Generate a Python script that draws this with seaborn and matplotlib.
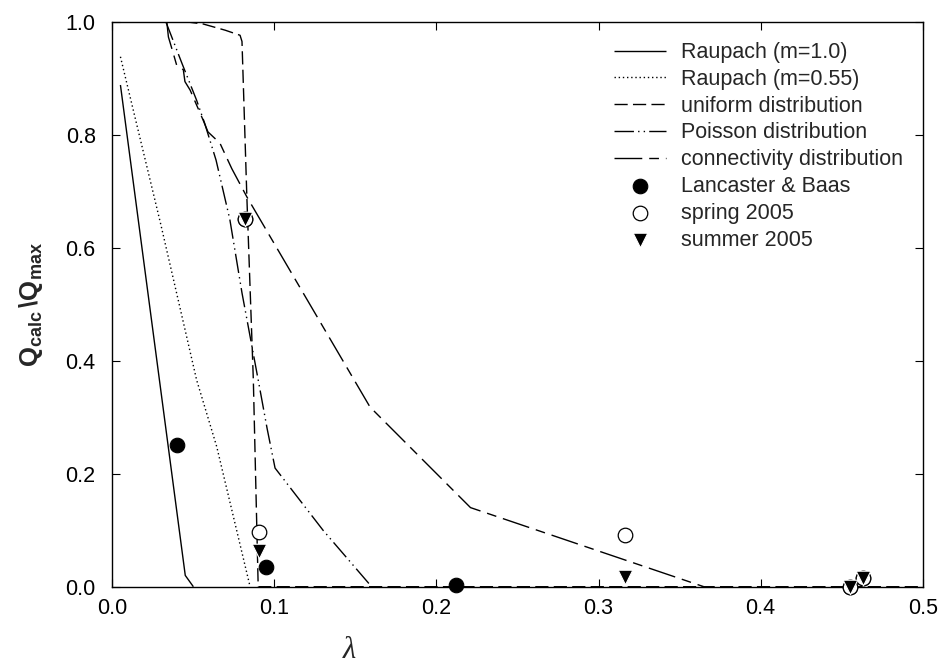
import matplotlib
matplotlib.use("Agg")
import matplotlib.pyplot as plt
import seaborn as sns
import numpy as np
import pandas as pd

# ---------------- data ----------------
raupach1_x = [0.005, 0.045, 0.050]
raupach1_y = [0.888, 0.020, 0.000]

raupach055_x = [0.005, 0.030, 0.052, 0.0644, 0.085]
raupach055_y = [0.938, 0.640, 0.366, 0.248, 0.000]

uniform_x = [0.033, 0.045, 0.056, 0.0696, 0.0788, 0.0800, 0.0830, 0.0870, 0.0900, 0.50]
uniform_y = [1.000, 1.000, 0.996, 0.985, 0.976, 0.965, 0.690, 0.366, 0.000, 0.000]

poisson_x = [0.033, 0.043, 0.052, 0.057, 0.064, 0.0725, 0.080, 0.090, 0.0955, 0.1004, 0.130, 0.160]
poisson_y = [1.000, 0.926, 0.861, 0.820, 0.755, 0.650, 0.520, 0.366, 0.280, 0.210, 0.100, 0.000]

connect_x = [0.0336, 0.0346, 0.0376, 0.0397, 0.0438, 0.0448, 0.048, 0.056, 0.059, 0.0664, 0.0737, 0.083, 0.159, 0.221, 0.365]
connect_y = [1.000, 0.973, 0.944, 0.923, 0.915, 0.894, 0.879, 0.826, 0.805, 0.785, 0.740, 0.690, 0.318, 0.140, 0.000]

lancaster_x = [0.040, 0.082, 0.095, 0.212, 0.455, 0.463]
lancaster_y = [0.250, 0.650, 0.035, 0.003, 0.000, 0.016]

spring_x = [0.082, 0.0905, 0.3164, 0.455, 0.463]
spring_y = [0.650, 0.096, 0.0910, 0.000, 0.016]

summer_x = [0.082, 0.0905, 0.3164, 0.455, 0.463]
summer_y = [0.650, 0.063, 0.0180, 0.000, 0.016]

x_ticks = [0.0, 0.1, 0.2, 0.3, 0.4, 0.5]
y_ticks = [0.0, 0.2, 0.4, 0.6, 0.8, 1.0]

# ---------------- style ----------------
sns.set_style("ticks")
plt.rcParams["font.family"] = ["Liberation Sans", "DejaVu Sans"]
plt.rcParams["mathtext.fontset"] = "custom"
plt.rcParams["mathtext.rm"] = "Liberation Sans"
plt.rcParams["mathtext.bf"] = "Liberation Sans:bold"
plt.rcParams["mathtext.it"] = "Liberation Sans:italic"

FS = 15.5
fig = plt.figure(figsize=(9.4, 6.7), dpi=100)
ax = fig.add_axes([0.1195, 0.1243, 0.8621, 0.8433])

lines = [
    (raupach1_x, raupach1_y, "Raupach (m=1.0)", (0, ())),
    (raupach055_x, raupach055_y, "Raupach (m=0.55)", (0, (1, 2.0))),
    (uniform_x, uniform_y, "uniform distribution", (0, (9.5, 3.8))),
    (poisson_x, poisson_y, "Poisson distribution", (0, (14, 3, 1, 3, 1, 3))),
    (connect_x, connect_y, "connectivity distribution", (0, (20, 5, 7, 5))),
]
for xs, ys, lab, ls in lines:
    df = pd.DataFrame({"x": xs, "y": ys})
    sns.lineplot(data=df, x="x", y="y", ax=ax, color="black", lw=1.0,
                 sort=False, estimator=None, label=lab)
    ln = ax.lines[-1]
    ln.set_linestyle(ls)

sns.scatterplot(x=lancaster_x, y=lancaster_y, ax=ax, marker="o", s=110,
                color="black", edgecolor="black", linewidth=0.8,
                label="Lancaster & Baas", zorder=5, clip_on=False)
sns.scatterplot(x=spring_x, y=spring_y, ax=ax, marker="o", s=110,
                facecolor="white", edgecolor="black", linewidth=0.9,
                label="spring 2005", zorder=6, clip_on=False)
sns.scatterplot(x=summer_x, y=summer_y, ax=ax, marker="v", s=110,
                color="black", edgecolor="white", linewidth=0.8,
                label="summer 2005", zorder=7, clip_on=False)

ax.set_xlim(0, 0.5)
ax.set_ylim(0, 1.0)
ax.set_xticks(x_ticks)
ax.set_yticks(y_ticks)
ax.set_xticklabels([f"{v:.1f}" for v in x_ticks], fontsize=FS)
ax.set_yticklabels([f"{v:.1f}" for v in y_ticks], fontsize=FS)
ax.tick_params(direction="in", length=6, width=0.8, top=True, right=True,
               colors="black")
ax.tick_params(axis="x", pad=8)
ax.tick_params(axis="y", pad=12)
for sp in ax.spines.values():
    sp.set_visible(True)
    sp.set_linewidth(1.0)
    sp.set_color("black")

ax.set_xlabel("λ", fontsize=22, fontstyle="italic", family=["Liberation Serif", "DejaVu Serif"])
ax.xaxis.set_label_coords(0.293, -0.088)
ax.set_ylabel(r"$\mathbf{Q_{calc}\,\backslash Q_{max}}$", fontsize=18.5)
ax.yaxis.set_label_coords(-0.083, 0.5)

leg = ax.legend(loc="upper left", bbox_to_anchor=(0.619, 0.964), frameon=False,
                fontsize=FS, handlelength=2.4, handletextpad=0.7,
                labelspacing=0.27, borderpad=0, borderaxespad=0,
                markerscale=1.0)

fig.savefig("out.png", dpi=100)
